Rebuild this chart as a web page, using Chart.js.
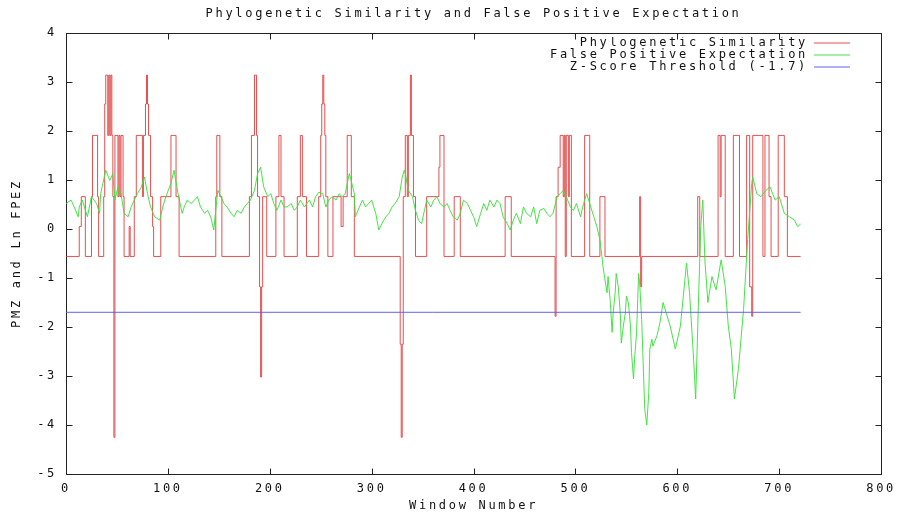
<!DOCTYPE html>
<html>
<head>
<meta charset="utf-8">
<script src="https://cdn.jsdelivr.net/npm/chart.js@4/dist/chart.umd.min.js"></script>
<style>
html,body{margin:0;padding:0;background:#ffffff;}
canvas{display:block;}
</style>
</head>
<body>
<canvas id="c" width="904" height="520" style="width:904px;height:520px"></canvas>
<script>
// ---------- data ----------
const chartTitle = 'Phylogenetic Similarity and False Positive Expectation';
const seriesNames = ['Phylogenetic Similarity', 'False Positive Expectation', 'Z-Score Threshold (-1.7)'];
const xAxisTitle = 'Window Number';
const yAxisTitle = 'PMZ and Ln FPEZ';
const xTicks = [0, 100, 200, 300, 400, 500, 600, 700, 800];
const yTicks = [-5, -4, -3, -2, -1, 0, 1, 2, 3, 4];

// Phylogenetic similarity: step function, value holds from each window until the next change
const simX = [0,13,15,19,25,26,31,32,37,38,39,41,42,43,44,45,46,47,48,51,52,53,54,56,57,62,63,67,69,75,76,78,79,80,81,83,85,86,93,103,108,111,
  147,148,151,153,180,182,185,187,188,190,191,192,193,197,206,209,211,214,227,230,232,236,
  248,250,251,252,253,254,255,257,262,270,272,276,280,283,328,329,330,331,333,335,336,338,339,341,343,
  354,366,367,371,381,387,431,437,480,481,483,485,488,489,490,491,493,494,496,509,514,524,529,
  563,564,565,620,622,640,642,643,647,655,661,668,671,673,674,684,686,690,692,699,705,708,721];
const simY = [-0.56,0.05,0.66,-0.56,0.66,1.91,0.66,-0.56,0.66,2.55,3.14,1.91,3.14,1.91,3.14,1.91,0.66,-4.25,1.91,0.66,1.91,0.66,1.91,0.66,-0.56,0.05,-0.56,0.66,1.91,0.66,1.91,2.55,3.14,2.55,1.91,0.66,0.05,-0.56,0.66,1.91,0.66,-0.56,
  0.66,1.91,0.66,-0.56,0.66,1.91,3.14,1.91,0.66,-1.18,-3.02,-1.18,0.66,-0.56,0.66,1.91,0.66,-0.56,0.66,1.91,0.66,-0.56,
  0.66,1.91,2.55,3.14,2.55,1.91,0.66,-0.56,0.66,0.05,0.66,1.91,0.66,-0.56,-2.35,-4.25,-2.35,0.66,1.91,0.66,1.91,3.14,1.91,0.66,-0.56,
  0.66,1.26,1.91,-0.56,0.66,-0.56,0.66,-0.56,-1.78,0.66,1.26,1.91,0.66,1.91,-0.56,1.91,0.66,1.91,-0.56,1.91,-0.56,0.66,-0.56,
  0.66,-1.18,-0.56,0.66,-0.56,1.91,0.66,1.91,-0.56,1.91,-0.56,1.91,-1.18,-1.78,1.91,-0.56,1.91,0.66,-0.56,1.91,0.66,-0.56,-0.56];

// False positive expectation (ln FPEZ)
const fpeX = [0,5,8,12,13,16,21,25,30,33,34,39,43,46,48,51,54,57,61,64,67,70,74,77,80,83,87,92,95,98,103,106,110,114,
  116,119,123,126,129,132,136,139,142,145,149,152,155,158,162,165,168,172,175,178,181,185,188,191,194,198,201,204,207,211,214,217,221,224,227,230,234,
  239,242,245,248,252,255,258,261,265,268,271,274,278,279,283,284,288,291,294,297,300,304,307,310,314,317,320,323,327,330,332,333,336,340,343,346,349,352,
  354,358,361,364,367,371,374,377,380,384,387,390,394,397,400,403,407,410,413,416,420,423,426,429,433,436,439,442,446,449,452,456,459,462,465,
  469,472,475,478,482,485,488,491,495,498,501,505,508,511,514,518,521,524,526,527,529,531,532,534,536,537,539,540,542,544,545,547,549,550,552,554,555,557,558,560,562,563,565,567,568,570,572,573,575,576,580,583,586,589,
  593,598,603,609,612,616,618,621,623,625,627,630,634,638,643,647,650,653,656,660,665,669,673,674,678,682,687,691,696,700,705,710,715,718,721];
const fpeY = [0.52,0.59,0.45,0.25,0.45,0.59,0.25,0.66,0.52,0.32,0.72,1.2,0.99,1.13,0.59,0.86,0.72,0.32,0.25,0.45,0.59,0.72,0.86,1.06,0.72,0.45,0.25,0.18,0.45,0.66,0.93,1.2,0.72,0.32,
  0.45,0.59,0.52,0.59,0.66,0.45,0.32,0.38,0.25,-0.02,0.79,0.66,0.52,0.45,0.32,0.25,0.38,0.32,0.45,0.52,0.59,0.79,1.13,1.26,0.86,0.66,0.72,0.52,0.38,0.59,0.45,0.45,0.52,0.38,0.45,0.59,0.45,
  0.59,0.45,0.66,0.75,0.72,0.45,0.59,0.66,0.59,0.72,0.66,0.72,1.13,1.06,0.72,0.25,0.45,0.59,0.45,0.52,0.59,0.32,-0.02,0.11,0.25,0.32,0.45,0.52,0.66,1.06,1.2,1.13,0.79,0.66,0.38,0.18,0.11,0.4,
  0.59,0.45,0.59,0.66,0.52,0.45,0.52,0.38,0.25,0.18,0.32,0.59,0.52,0.38,0.25,0.05,0.32,0.52,0.38,0.59,0.45,0.59,0.52,0.25,0.11,-0.02,0.18,0.32,0.11,0.45,0.32,0.25,0.45,0.11,0.38,
  0.42,0.32,0.25,0.32,0.66,0.72,0.79,0.66,0.45,0.38,0.52,0.25,0.52,0.72,0.52,0.25,0.05,-0.22,-0.56,-0.76,-1.04,-1.3,-0.97,-1.44,-2.11,-1.71,-1.3,-0.91,-1.17,-1.71,-2.33,-1.98,-1.71,-1.37,-1.51,-1.98,-2.52,-3.06,-2.66,-2.11,-0.91,-1.1,-1.85,-3.06,-3.67,-4.0,-3.33,-2.45,-2.25,-2.39,-2.18,-1.91,-1.5,-1.71,
  -1.98,-2.45,-1.98,-0.7,-1.3,-2.66,-3.47,-1.3,0.05,0.59,-0.63,-1.5,-0.97,-1.24,-0.63,-1.17,-1.98,-2.45,-3.47,-2.85,-1.64,-0.22,0.93,1.06,0.72,0.66,0.79,0.86,0.59,0.66,0.32,0.25,0.18,0.05,0.1];

// Z-score threshold
const thresholdX = [0, 721];
const thresholdY = [-1.7, -1.7];

// ---------- helpers ----------
const pts = (xs, ys) => xs.map((x, i) => ({x: x, y: ys[i]}));
const FONT = {family: '"DejaVu Sans Mono", "Liberation Mono", monospace', size: 12, weight: 'normal'};
const TXT = '#111111';
const SPACING = '2.7px';

const spacingPlugin = {
  id: 'spacing',
  beforeLayout(chart) { chart.ctx.letterSpacing = SPACING; },
  beforeDraw(chart) { chart.ctx.letterSpacing = SPACING; }
};

const legendPlace = {
  id: 'legendPlace',
  afterLayout(chart) {
    const lg = chart.legend;
    if (!lg) return;
    lg.left = 300; lg.width = 550; lg.right = 850;
    lg.top = 37; lg.height = 60; lg.bottom = 97;
  }
};

const framePlugin = {
  id: 'frame',
  beforeDatasetsDraw(chart) {
    const {ctx, chartArea: a, scales} = chart;
    const xs = scales.x, ys = scales.y;
    ctx.save();
    ctx.strokeStyle = '#222222';
    ctx.lineWidth = 1;
    const L = Math.round(a.left) + 0.5, R = Math.round(a.right) + 0.5;
    const T = Math.round(a.top) + 0.5, B = Math.round(a.bottom) + 0.5;
    ctx.beginPath();
    ctx.rect(L, T, R - L, B - T);
    xs.ticks.forEach(t => {
      const p = Math.round(xs.getPixelForValue(t.value)) + 0.5;
      ctx.moveTo(p, B); ctx.lineTo(p, B - 6);
      ctx.moveTo(p, T); ctx.lineTo(p, T + 6);
    });
    ys.ticks.forEach(t => {
      const p = Math.round(ys.getPixelForValue(t.value)) + 0.5;
      ctx.moveTo(L, p); ctx.lineTo(L + 6, p);
      ctx.moveTo(R, p); ctx.lineTo(R - 6, p);
    });
    ctx.stroke();
    ctx.restore();
  }
};

new Chart(document.getElementById('c'), {
  type: 'line',
  data: {
    datasets: [
      {label: seriesNames[0], data: pts(simX, simY), stepped: true, borderColor: 'rgba(222,50,50,0.85)', borderWidth: 1, pointRadius: 0, order: 3},
      {label: seriesNames[1], data: pts(fpeX, fpeY), borderColor: 'rgba(60,225,60,0.95)', borderWidth: 1, pointRadius: 0, tension: 0, order: 2},
      {label: seriesNames[2], data: pts(thresholdX, thresholdY), borderColor: 'rgba(90,90,235,0.95)', borderWidth: 1, pointRadius: 0, order: 1}
    ]
  },
  options: {
    responsive: false,
    animation: false,
    devicePixelRatio: 1,
    layout: {padding: {left: 0, right: 20, top: 0, bottom: 0}},
    scales: {
      x: {
        type: 'linear', min: 0, max: 800,
        afterBuildTicks(s) { s.ticks = xTicks.map(v => ({value: v})); },
        afterFit(s) { s.height = 46; },
        ticks: {font: FONT, color: TXT, padding: 8, maxRotation: 0, autoSkip: false},
        grid: {display: false, drawTicks: false},
        border: {display: false},
        title: {display: true, text: xAxisTitle, font: FONT, color: TXT, padding: {top: 0, bottom: 6.8}}
      },
      y: {
        type: 'linear', min: -5, max: 4,
        afterBuildTicks(s) { s.ticks = yTicks.map(v => ({value: v})); },
        afterFit(s) { s.width = 66; },
        ticks: {font: FONT, color: TXT, padding: 9},
        grid: {display: false, drawTicks: false},
        border: {display: false},
        title: {display: true, text: yAxisTitle, font: FONT, color: TXT, padding: {top: 10, bottom: 0}}
      }
    },
    plugins: {
      title: {display: true, fullSize: false, text: chartTitle, font: FONT, color: TXT, padding: {top: 6.8, bottom: 11.8}},
      legend: {
        display: true, position: 'right', maxWidth: 1, reverse: true, rtl: true, textDirection: 'ltr', align: 'start',
        labels: {usePointStyle: true, pointStyle: 'line', pointStyleWidth: 36, boxHeight: 12, padding: 0, font: FONT, color: TXT}
      },
      tooltip: {enabled: false}
    }
  },
  plugins: [spacingPlugin, legendPlace, framePlugin]
});
</script>
</body>
</html>
